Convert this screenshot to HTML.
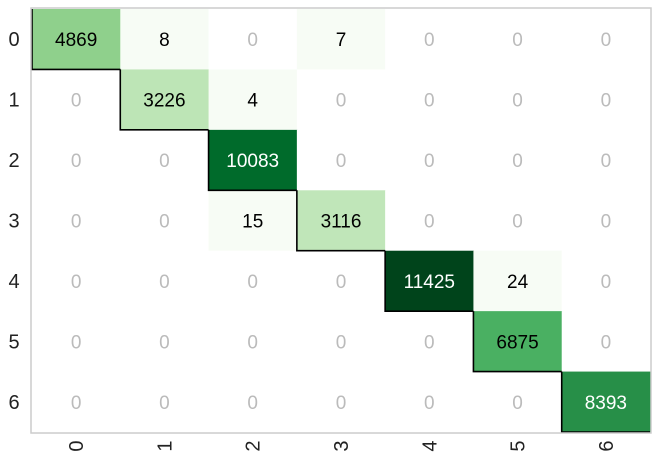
<!DOCTYPE html>
<html><head><meta charset="utf-8"><style>
body{margin:0;background:#fff;}
svg text{font-family:"Liberation Sans",Arial,sans-serif;}
</style></head><body>
<svg id="c" width="661" height="464"></svg>
<script>
const classes=["0","1","2","3","4","5","6"];
const row0=[4869,8,0,7,0,0,0];
const row1=[0,3226,4,0,0,0,0];
const row2=[0,0,10083,0,0,0,0];
const row3=[0,0,15,3116,0,0,0];
const row4=[0,0,0,0,11425,24,0];
const row5=[0,0,0,0,0,6875,0];
const row6=[0,0,0,0,0,0,8393];
const matrix=[row0,row1,row2,row3,row4,row5,row6];
const NS="http://www.w3.org/2000/svg";
const svg=document.getElementById('c');
const L=32,T=9,R=650,B=432;
const n=classes.length,cw=(R-L)/n,ch=(B-T)/n;
const xs=i=>L+i*cw, ys=i=>T+i*ch;
const stops=[[247,252,245],[229,245,224],[199,233,192],[161,217,155],[116,196,118],[65,171,93],[35,139,69],[0,109,44],[0,68,27]];
let mx=0;matrix.forEach(r=>r.forEach(v=>{if(v>mx)mx=v;}));
function col(v){const t=Math.min(1,v/mx)*(stops.length-1);const i=Math.min(stops.length-2,Math.floor(t));const f=t-i;
const c=stops[i].map((a,k)=>Math.round(a+(stops[i+1][k]-a)*f));return `rgb(${c})`;}
function el(tag,attrs,txt){const e=document.createElementNS(NS,tag);for(const k in attrs)e.setAttribute(k,attrs[k]);if(txt!==undefined)e.textContent=txt;svg.appendChild(e);return e;}
matrix.forEach((r,i)=>r.forEach((v,j)=>{
  const rc=el('rect',{x:xs(j),y:ys(i),width:cw+0.5,height:ch+0.5,fill:v===0?'#fff':col(v)});
  
  
  const tx=el('text',{x:xs(j)+cw/2,y:ys(i)+ch/2+7,'text-anchor':'middle','font-size':19,fill:v===0?'#bbb':(v/mx>0.65?'#fff':'#000')},String(v));
  
  
}));
for(let i=0;i<n;i++){
  const d=el('path',{d:`M${xs(i)},${ys(i)} V${ys(i+1)} H${xs(i+1)}`,fill:'none',stroke:'#000','stroke-width':1.6});
  
  
}
const fr=el('rect',{x:L-1,y:T-1,width:R-L+2,height:B-T+2,fill:'none',stroke:'#ccc','stroke-width':1.5});


classes.forEach((c,i)=>{
  const y=el('text',{x:14,y:ys(i)+ch/2+7,'text-anchor':'middle','font-size':20,fill:'#222'},c);
  
  
  const cx=xs(i)+cw/2;
  const x=el('text',{x:cx+7,y:446,'text-anchor':'middle','font-size':20,fill:'#222',transform:`rotate(-90 ${cx+7} 446)`},c);
  
  
});
</script>
</body></html>
